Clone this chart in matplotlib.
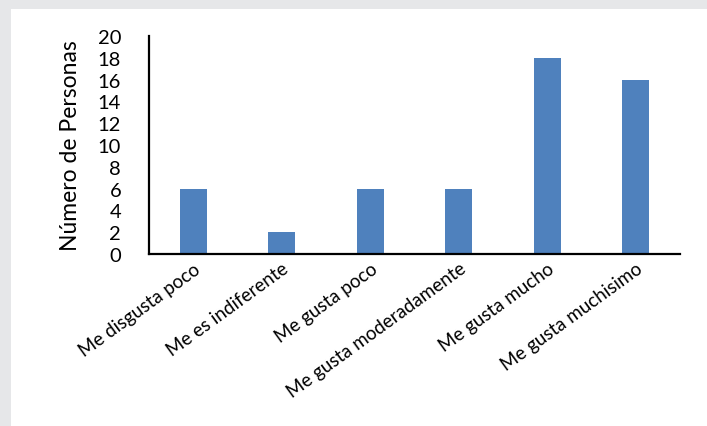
import matplotlib
matplotlib.use('Agg')
import matplotlib.pyplot as plt
from matplotlib.patches import Rectangle

categories = ['Me disgusta poco', 'Me es indiferente', 'Me gusta poco',
              'Me gusta moderadamente', 'Me gusta mucho', 'Me gusta muchisimo']
personas = [6, 2, 6, 6, 18, 16]
yticks = [0, 2, 4, 6, 8, 10, 12, 14, 16, 18, 20]

plt.rcParams['font.family'] = ['Lato', 'DejaVu Sans']

W, H = 707, 427
fig = plt.figure(figsize=(W / 100, H / 100), dpi=100, facecolor='#e6e7e9')
# white card over the grey frame
fig.patches.append(Rectangle((11 / W, 0), 1, 1 - 10 / H, transform=fig.transFigure,
                             facecolor='white', edgecolor='none', zorder=-10))

ax = fig.add_axes([149 / W, (H - 255) / H, (680 - 149) / W, (255 - 37) / H])
ax.set_facecolor('none')

x = range(len(categories))
ax.bar(x, personas, width=0.31, color='#4f81bd')

ax.set_xlim(-0.5, len(categories) - 0.5)
ax.set_ylim(0, 20)
ax.set_yticks(yticks)
ax.set_yticklabels([str(v) for v in yticks], fontsize=14.5)
ax.set_xticks(list(x))
ax.set_xticklabels(categories, rotation=36, ha='right', rotation_mode='anchor', fontsize=13.5)
ax.tick_params(axis='both', length=0)
ax.tick_params(axis='y', pad=20)
ax.tick_params(axis='x', pad=4)

# axis lines
for side in ['top', 'right']:
    ax.spines[side].set_visible(False)
for side in ['left', 'bottom']:
    ax.spines[side].set_linewidth(1.6)
    ax.spines[side].set_color('black')

ax.set_ylabel('Número de Personas', fontsize=16.5, labelpad=12)

fig.savefig('out.png', dpi=100, facecolor=fig.get_facecolor())
